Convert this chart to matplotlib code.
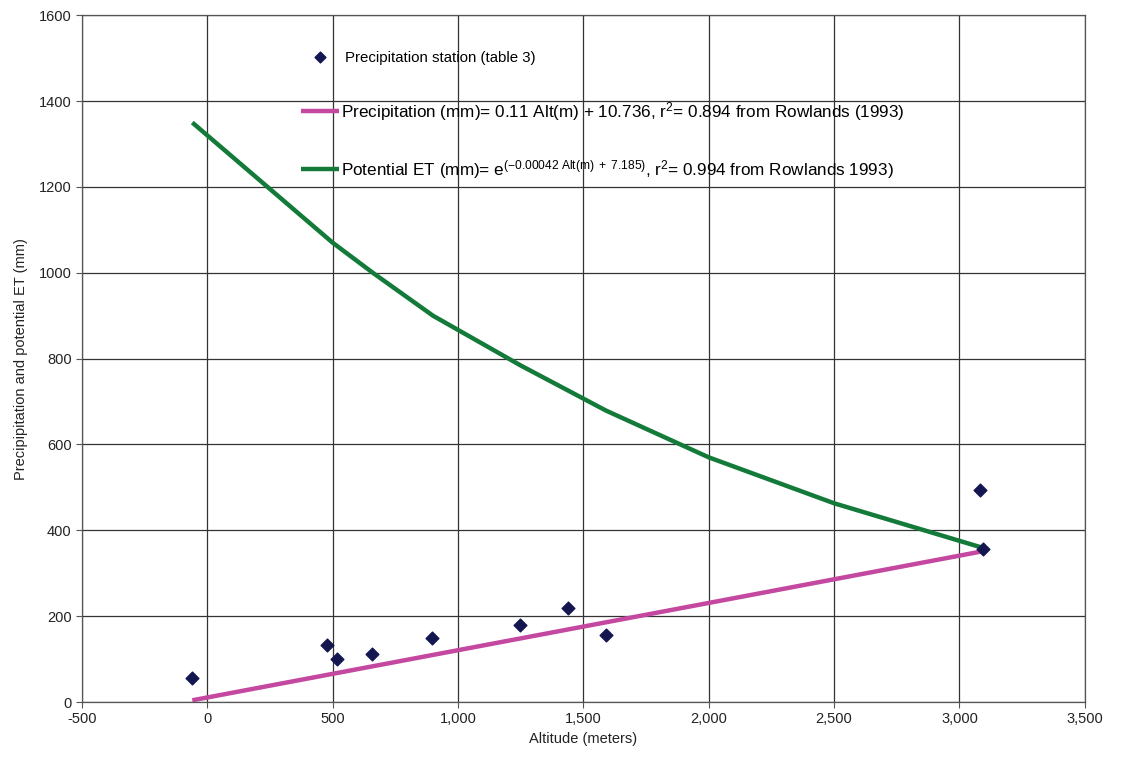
import matplotlib

matplotlib.use("Agg")
import matplotlib.pyplot as plt
from matplotlib.ticker import FuncFormatter

plt.rcParams["font.family"] = ["Liberation Sans", "DejaVu Sans"]
plt.rcParams["mathtext.fontset"] = "custom"
plt.rcParams["mathtext.rm"] = "Liberation Sans"
plt.rcParams["mathtext.it"] = "Liberation Sans"

# station observations (altitude m, precipitation mm)
station_alt = [-60, 478, 518, 657, 898, 1247, 1440, 1592, 3082, 3095]
station_precip = [57, 132, 100, 113, 150, 179, 220, 157, 495, 357]

# regression line (Rowlands 1993)
precip_alt = [-60, 3100]
precip_mm = [4, 352]

# potential ET curve as drawn
et_alt = [-60, 500, 660, 900, 1250, 1590, 2000, 2500, 3100]
et_mm = [1350, 1070, 1000, 900, 784, 679, 570, 463, 358]

x_ticks = [-500, 0, 500, 1000, 1500, 2000, 2500, 3000, 3500]
y_ticks = [0, 200, 400, 600, 800, 1000, 1200, 1400, 1600]

fig = plt.figure(figsize=(11.23, 7.61), dpi=100)
ax = fig.add_axes([0.073, 0.0775, 0.893, 0.9025])

ax.plot(precip_alt, precip_mm, color="#c4489f", lw=3.2, solid_capstyle="butt",
        label="Precipitation (mm)= 0.11 Alt(m) + 10.736, r$^{2}$= 0.894 from Rowlands (1993)")
ax.plot(et_alt, et_mm, color="#137a3a", lw=3.2, solid_capstyle="butt",
        label="Potential ET (mm)= e$^{\\mathregular{(-0.00042\\ Alt(m)\\ +\\ 7.185)}}$, "
              "r$^{2}$= 0.994 from Rowlands 1993)")
ax.scatter(station_alt, station_precip, marker="D", s=42, color="#141650", zorder=5,
           label="Precipitation station (table 3)")

ax.set_xlim(-500, 3500)
ax.set_ylim(0, 1600)
ax.set_xticks(x_ticks)
ax.set_yticks(y_ticks)
ax.xaxis.set_major_formatter(FuncFormatter(lambda v, p: f"{int(v):,}"))
ax.grid(True, color="#333333", lw=0.9)
ax.set_axisbelow(True)
for s in ax.spines.values():
    s.set_color("#555555")
    s.set_linewidth(0.9)
ax.tick_params(labelsize=10.5, length=4, color="#555555", labelcolor="#222222")
ax.set_xlabel("Altitude (meters)", fontsize=10.5, color="#222222", labelpad=4)
ax.set_ylabel("Precipipitation and potential ET (mm)", fontsize=10.5, color="#222222", labelpad=8)

handles, labels = ax.get_legend_handles_labels()
order = [2, 0, 1]
leg = ax.legend([handles[i] for i in order], [labels[i] for i in order],
                loc="upper left", bbox_to_anchor=(0.203, 0.972), frameon=False,
                fontsize=12.3, handlelength=2.2, handletextpad=0.15, labelspacing=2.05,
                markerscale=0.85)
leg.get_texts()[0].set_fontsize(10.8)
leg.get_texts()[0].set_x(4)

fig.savefig("out.png", dpi=100, facecolor="white")
